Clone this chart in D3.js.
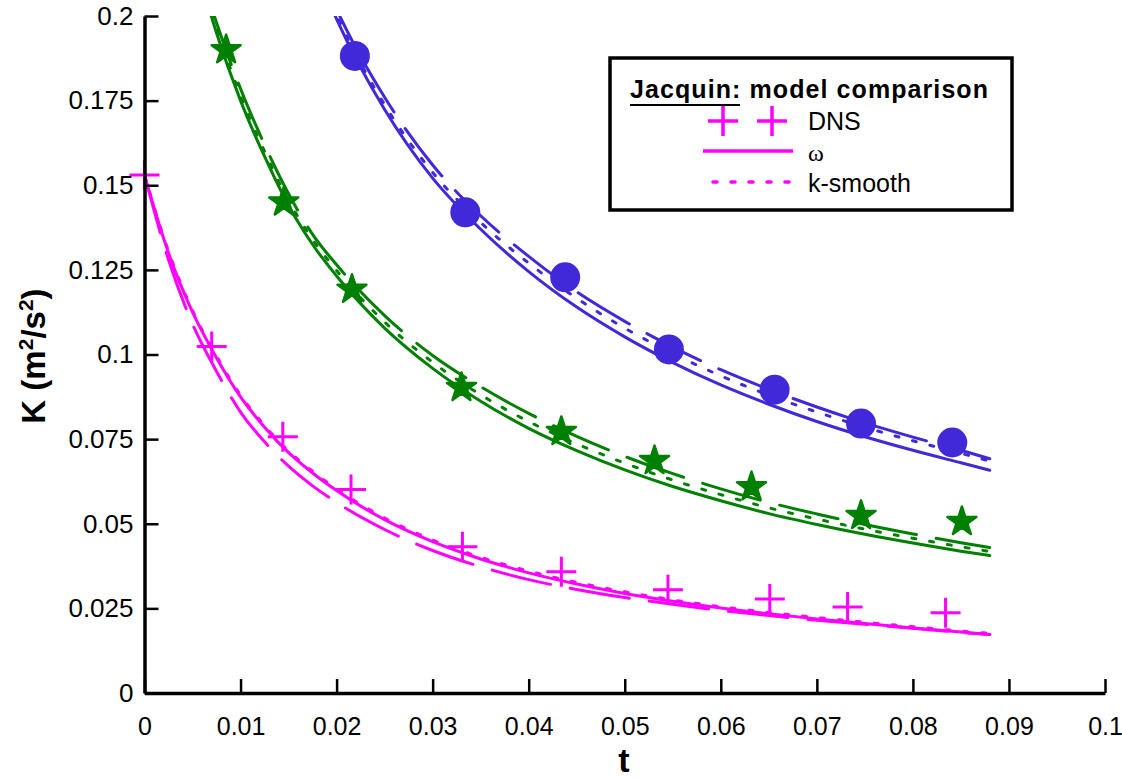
<!DOCTYPE html>
<html><head><meta charset="utf-8">
<script src="https://d3js.org/d3.v7.min.js"></script>
<style>
body{margin:0;background:#fff;}
svg{display:block;font-family:"Liberation Sans",Arial,sans-serif;}
</style></head>
<body>
<svg id="chart" width="1122" height="778"></svg>
<script>
// ---------- data ----------
const xTicks = [0,0.01,0.02,0.03,0.04,0.05,0.06,0.07,0.08,0.09,0.1];
const xTickLabels = ["0","0.01","0.02","0.03","0.04","0.05","0.06","0.07","0.08","0.09","0.1"];
const yTicks = [0,0.025,0.05,0.075,0.1,0.125,0.15,0.175,0.2];
const yTickLabels = ["0","0.025","0.05","0.075","0.1","0.125","0.15","0.175","0.2"];

// DNS markers
const dnsMagentaT = [0,0.0070,0.0144,0.0215,0.0331,0.0434,0.0545,0.0651,0.0732,0.0834];
const dnsMagentaK = [0.153,0.1024,0.0757,0.0601,0.0432,0.0358,0.0305,0.0278,0.0254,0.0237];
const dnsGreenT = [0.0085,0.0145,0.0216,0.0330,0.0434,0.0531,0.0632,0.0746,0.0851];
const dnsGreenK = [0.190,0.1450,0.1192,0.0902,0.0772,0.0686,0.0609,0.0524,0.0506];
const dnsBlueT = [0.0219,0.0334,0.0438,0.0546,0.0656,0.0746,0.0841];
const dnsBlueK = [0.1882,0.1420,0.1228,0.1015,0.0896,0.0796,0.0740];

// model curves (omega = solid, k-smooth = dotted, third model = long dash)
const tMagenta = [0,0.0025,0.005,0.0075,0.01,0.0125,0.015,0.0175,0.02,0.025,0.03,0.035,0.04,0.045,0.05,0.055,0.06,0.065,0.07,0.075,0.08,0.085,0.088];
const magentaOmega  = [0.153,0.130,0.1125,0.099,0.0875,0.0785,0.071,0.065,0.0598,0.0512,0.0447,0.0396,0.0355,0.0322,0.0294,0.0271,0.0251,0.0234,0.0219,0.0205,0.0192,0.0180,0.0173];
const magentaSmooth = [0.153,0.1305,0.113,0.0995,0.088,0.079,0.0715,0.0655,0.0603,0.0517,0.0452,0.0401,0.036,0.0327,0.0299,0.0275,0.0255,0.0238,0.0223,0.0209,0.0196,0.0183,0.0176];
const magentaDash   = [0.153,0.128,0.109,0.095,0.083,0.0742,0.067,0.0612,0.0563,0.0483,0.0421,0.0373,0.0335,0.0306,0.0282,0.0262,0.0244,0.0229,0.0215,0.0203,0.0191,0.0179,0.0173];

const tGreen = [0.0025,0.005,0.0075,0.01,0.0125,0.015,0.0175,0.02,0.025,0.03,0.035,0.04,0.045,0.05,0.055,0.06,0.065,0.07,0.075,0.08,0.085,0.088];
const greenOmega  = [0.246,0.219,0.195,0.175,0.1585,0.1440,0.1325,0.1232,0.1078,0.0959,0.0862,0.0782,0.0716,0.0659,0.0610,0.0568,0.0530,0.0498,0.0469,0.0443,0.0419,0.0406];
const greenSmooth = [0.247,0.220,0.1965,0.1765,0.160,0.1455,0.134,0.1248,0.1096,0.0977,0.0881,0.0802,0.0736,0.0679,0.0629,0.0586,0.0547,0.0514,0.0484,0.0457,0.0432,0.0418];
const greenDash   = [0.248,0.221,0.198,0.1785,0.162,0.1475,0.1355,0.1265,0.1115,0.0997,0.0905,0.0826,0.0758,0.0699,0.0648,0.0603,0.0563,0.0529,0.0498,0.0470,0.0444,0.0430];

const tBlue = [0.016,0.018,0.02,0.025,0.03,0.035,0.04,0.045,0.05,0.055,0.06,0.065,0.07,0.075,0.08,0.085,0.088];
const blueOmega  = [0.2277,0.2124,0.1991,0.1724,0.1521,0.1370,0.1245,0.1140,0.1052,0.0976,0.0910,0.0853,0.0802,0.0757,0.0717,0.0680,0.0658];
const blueSmooth = [0.2285,0.2135,0.2003,0.1738,0.1538,0.1390,0.1270,0.1166,0.1078,0.1003,0.0937,0.0880,0.0830,0.0785,0.0745,0.0708,0.0685];
const blueDash   = [0.230,0.2150,0.2020,0.1760,0.1560,0.1410,0.1290,0.1185,0.1098,0.1022,0.0955,0.0897,0.0845,0.0798,0.0756,0.0717,0.0692];

const MAGENTA = "#ff00ff", GREEN = "#008000", BLUE = "#4128d8";

// ---------- chart ----------
const svg = d3.select("#chart");
const x = d3.scaleLinear().domain([0,0.1]).range([144.5,1105]);
const y = d3.scaleLinear().domain([0,0.2]).range([693,16]);

svg.append("defs").append("clipPath").attr("id","plotclip")
  .append("rect").attr("x",144).attr("y",16).attr("width",962).attr("height",677);

const line = d3.line().x(d=>x(d[0])).y(d=>y(d[1])).curve(d3.curveMonotoneX);
const zip = (t,v)=>t.map((tt,i)=>[tt,v[i]]);

const curves = svg.append("g").attr("clip-path","url(#plotclip)");
const series = [
  [tMagenta,magentaDash,MAGENTA,"60,20"],[tMagenta,magentaSmooth,MAGENTA,"4,14"],[tMagenta,magentaOmega,MAGENTA,null],
  [tGreen,greenDash,GREEN,"60,20"],[tGreen,greenSmooth,GREEN,"4,14"],[tGreen,greenOmega,GREEN,null],
  [tBlue,blueDash,BLUE,"60,20"],[tBlue,blueSmooth,BLUE,"4,14"],[tBlue,blueOmega,BLUE,null]
];
series.forEach(([t,v,c,dash])=>{
  curves.append("path").attr("d",line(zip(t,v)))
    .attr("fill","none").attr("stroke",c).attr("stroke-width",3)
    .attr("stroke-linecap","round")
    .attr("stroke-dasharray",dash);
});

// axes
const xAxis = d3.axisBottom(x).tickValues(xTicks).tickFormat((d,i)=>xTickLabels[i])
  .tickSizeInner(-14).tickSizeOuter(0).tickPadding(24);
const yAxis = d3.axisLeft(y).tickValues(yTicks).tickFormat((d,i)=>yTickLabels[i])
  .tickSizeInner(-14).tickSizeOuter(0).tickPadding(11);
const gx = svg.append("g").attr("transform","translate(0,693)").call(xAxis);
const gy = svg.append("g").attr("transform","translate(144.5,0)").call(yAxis);
[gx,gy].forEach(g=>{
  g.select(".domain").attr("stroke","#000").attr("stroke-width",3.5);
  g.selectAll(".tick line").attr("stroke","#000").attr("stroke-width",2.5);
  g.selectAll(".tick text").attr("fill","#000")
    .attr("font-family","'Liberation Sans',Arial,sans-serif");
});
gx.selectAll(".tick text").attr("font-size",25);
gy.selectAll(".tick text").attr("font-size",26);

// markers
const plusPath = "M-15,0H15M0,-15V15";
const mk = svg.append("g");
dnsMagentaT.forEach((t,i)=>{
  mk.append("path").attr("d",plusPath)
    .attr("transform",`translate(${x(t)},${y(dnsMagentaK[i])})`)
    .attr("stroke",MAGENTA).attr("stroke-width",3).attr("fill","none");
});
const starPath = d3.symbol().type(d3.symbolStar).size(260)();
dnsGreenT.forEach((t,i)=>{
  mk.append("path").attr("d",starPath)
    .attr("transform",`translate(${x(t)},${y(dnsGreenK[i])})`)
    .attr("fill",GREEN).attr("stroke",GREEN).attr("stroke-width",2.5).attr("stroke-linejoin","round");
});
dnsBlueT.forEach((t,i)=>{
  mk.append("circle").attr("cx",x(t)).attr("cy",y(dnsBlueK[i])).attr("r",15).attr("fill",BLUE);
});
// redraw y axis line over the t=0 marker
gy.raise();

// axis titles
svg.append("text").attr("x",624).attr("y",772).attr("text-anchor","middle")
  .attr("font-size",34).attr("font-weight","bold").text("t");
const yt = svg.append("text").attr("transform","translate(45,356) rotate(-90)")
  .attr("text-anchor","middle").attr("font-size",33).attr("font-weight","bold");
yt.append("tspan").text("K (m");
yt.append("tspan").attr("font-size",21).attr("dy",-12).text("2");
yt.append("tspan").attr("dy",12).text("/s");
yt.append("tspan").attr("font-size",21).attr("dy",-12).text("2");
yt.append("tspan").attr("dy",12).text(")");

// legend
const lg = svg.append("g");
lg.append("rect").attr("x",610).attr("y",58).attr("width",402).attr("height",152)
  .attr("fill","#fff").attr("stroke","#000").attr("stroke-width",3.5);
const title = lg.append("text").attr("x",630).attr("y",98).attr("font-size",25)
  .attr("font-weight","bold").attr("textLength",358).attr("lengthAdjust","spacing");
title.append("tspan").text("Jacquin:");
title.append("tspan").text(" model comparison");
lg.append("line").attr("x1",630).attr("x2",740).attr("y1",105).attr("y2",105)
  .attr("stroke","#000").attr("stroke-width",2);
[723,772].forEach(cx=>{
  lg.append("path").attr("d",plusPath).attr("transform",`translate(${cx},121)`)
    .attr("stroke",MAGENTA).attr("stroke-width",3.5).attr("fill","none");
});
lg.append("text").attr("x",808).attr("y",130).attr("font-size",25).text("DNS");
lg.append("line").attr("x1",703).attr("x2",793).attr("y1",151).attr("y2",151)
  .attr("stroke",MAGENTA).attr("stroke-width",3.5);
lg.append("text").attr("x",808).attr("y",161).attr("font-size",24)
  .attr("font-family","'Liberation Serif','Times New Roman',serif").text("ω");
lg.append("line").attr("x1",713).attr("x2",793).attr("y1",182).attr("y2",182)
  .attr("stroke",MAGENTA).attr("stroke-width",3.5).attr("stroke-linecap","round")
  .attr("stroke-dasharray","4,14");
lg.append("text").attr("x",808).attr("y",192).attr("font-size",25).text("k-smooth");
</script>
</body></html>
